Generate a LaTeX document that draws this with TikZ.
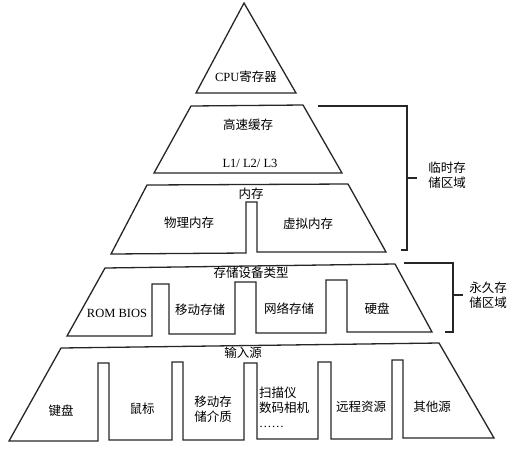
\documentclass[tikz,border=0pt]{standalone}
\usepackage{fontspec}
\setmainfont{Liberation Serif}
\newfontfamily\cjk{Noto Sans CJK SC}
\usetikzlibrary{positioning}
\tikzset{layer/.style={draw=black!85, line width=1.3pt, line join=miter},
         lbl/.style={font=\fontsize{12.5}{15}\selectfont, inner sep=0pt, align=center},
         brace/.style={draw=black!85, line width=1.1pt}}

\begin{document}
\begin{tikzpicture}[x=1pt, y=-1pt]
 \useasboundingbox (0,0) rectangle (514,451);
 \draw[layer] (244,3) -- (296,93) -- (196,93) -- cycle;
 \draw[layer] (191,106) -- (303,105) -- (342,173) -- (154,173) -- cycle;
 \draw[layer] (111,254) -- (147,185) -- (348,184) -- (386,252) -- (257,252)
   -- (257,202) -- (246,202) -- (246,253) -- cycle;
 \draw[layer] (67,336) -- (105,268) -- (395,264) -- (432,332) -- (347,332)
   -- (347,280) -- (326,280) -- (326,333) -- (256,333) -- (256,282)
   -- (235,282) -- (235,334) -- (169,334) -- (169,284) -- (152,284)
   -- (152,336) -- cycle;
 \draw[layer] (9,441) -- (61,348) -- (439,343) -- (494,438) -- (403,438)
   -- (403,360) -- (392,360) -- (392,439) -- (331,439) -- (331,362)
   -- (318,362) -- (318,439) -- (257,439) -- (257,363) -- (244,363)
   -- (244,440) -- (183,440) -- (183,362) -- (172,362) -- (172,440)
   -- (109,440) -- (109,363) -- (98,363) -- (98,441) -- cycle;

 \coordinate (t1) at (318,106);
 \coordinate (b1) at (401,250);
 \coordinate (m1) at (417,178);
 \draw[brace] (t1) -| (407,250) -- (b1);
 \draw[brace] (407,178) -- (m1);
 \coordinate (t2) at (404,263);
 \coordinate (b2) at (445,332);
 \coordinate (m2) at (463,295);
 \draw[brace] (t2) -| (453,332) -- (b2);
 \draw[brace] (453,295) -- (m2);

 \node[lbl] (cpu) at (246,77) {CPU{\cjk 寄存器}};
 \node[lbl] (cache) at (248,125) {\cjk 高速缓存};
 \node[lbl] (lvl) at (250,163) {L1/ L2/ L3};
 \node[lbl] (mem) at (251,194) {\cjk 内存};
 \node[lbl] (phys) at (189,223) {\cjk 物理内存};
 \node[lbl] (virt) at (308,224) {\cjk 虚拟内存};
 \node[lbl] (dev) at (251,273) {\cjk 存储设备类型};
 \node[lbl] (rom) at (117,313) {ROM BIOS};
 \node[lbl] (mob) at (200,310) {\cjk 移动存储};
 \node[lbl] (net) at (289,309) {\cjk 网络存储};
 \node[lbl] (hdd) at (377,309) {\cjk 硬盘};
 \node[lbl] (inp) at (243,353) {\cjk 输入源};
 \node[lbl] (kbd) at (61,411) {\cjk 键盘};
 \node[lbl] (mouse) at (142,409) {\cjk 鼠标};
 \node[lbl] (media) at (213,409) {\cjk 移动存\\\cjk 储介质};
 \node[lbl, align=left, anchor=west] (scan) at (259,407) {\cjk 扫描仪\\\cjk 数码相机\\……};
 \node[lbl] (remote) at (361,407) {\cjk 远程资源};
 \node[lbl] (other) at (432,407) {\cjk 其他源};
 \node[lbl] (temp) at (447,175) {\cjk 临时存\\\cjk 储区域};
 \node[lbl] (perm) at (488,295) {\cjk 永久存\\\cjk 储区域};
\end{tikzpicture}
\end{document}
